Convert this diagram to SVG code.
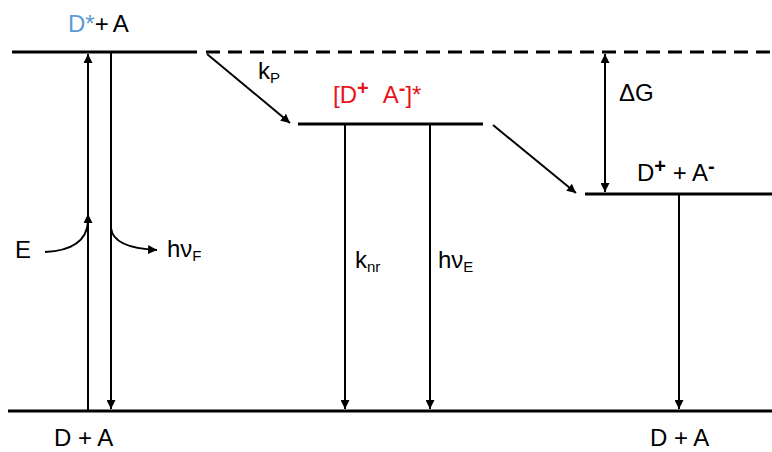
<svg xmlns="http://www.w3.org/2000/svg" width="772" height="452" viewBox="0 0 772 452">
<defs>
<marker id="ah" viewBox="0 0 10 10" refX="10" refY="5" markerWidth="9" markerHeight="9" markerUnits="userSpaceOnUse" orient="auto-start-reverse">
<path d="M0,0 L10,5 L0,10 z" fill="#000"/>
</marker>
<style>
.lv{stroke:#000;stroke-width:3;fill:none}
.ar{stroke:#000;stroke-width:2;fill:none}
text{font-family:"Liberation Sans",Arial,sans-serif;font-size:24px;fill:#000}
.sub{font-size:15px}
.sup{font-size:20px;font-weight:bold}
.red{fill:#e8141c}
.blue{fill:#5b9bd5}
</style>
</defs>
<g id="levels">
<g id="level-excited"><line class="lv" x1="12" y1="52" x2="197" y2="52"/></g>
<g id="level-ref"><line class="lv" x1="206" y1="52" x2="772" y2="52" stroke-dasharray="14,8"/></g>
<g id="level-cs"><line class="lv" x1="298" y1="124" x2="483" y2="124"/></g>
<g id="level-ip"><line class="lv" x1="585" y1="194" x2="772" y2="194"/></g>
<g id="level-ground"><line class="lv" x1="8" y1="411" x2="772" y2="411"/></g>
</g>
<g id="connectors">
<line class="ar" x1="88" y1="410" x2="88" y2="54" marker-end="url(#ah)"/>
<line class="ar" x1="88" y1="260" x2="88" y2="214" marker-end="url(#ah)"/>
<path class="ar" d="M45,252 Q86,250 88,222"/>
<line class="ar" x1="111" y1="53" x2="111" y2="409" marker-end="url(#ah)"/>
<path class="ar" d="M111,228 Q113,248 157,250" marker-end="url(#ah)"/>
<line class="ar" x1="207" y1="54" x2="290" y2="123" marker-end="url(#ah)"/>
<line class="ar" x1="493" y1="125" x2="576" y2="193" marker-end="url(#ah)"/>
<line class="ar" x1="605" y1="54" x2="605" y2="192" marker-start="url(#ah)" marker-end="url(#ah)"/>
<line class="ar" x1="345" y1="125" x2="345" y2="409" marker-end="url(#ah)"/>
<line class="ar" x1="430" y1="125" x2="430" y2="409" marker-end="url(#ah)"/>
<line class="ar" x1="679" y1="195" x2="679" y2="409" marker-end="url(#ah)"/>
</g>
<g id="labels">
<text x="68" y="32" font-size="25"><tspan class="blue">D*</tspan>+<tspan dx="4">A</tspan></text>
<text x="333" y="103" class="red">[D<tspan class="sup" dy="-8">+</tspan><tspan dy="8" dx="14">A</tspan><tspan class="sup" dy="-8">-</tspan><tspan dy="8">]*</tspan></text>
<text x="619" y="101">ΔG</text>
<text x="637" y="181">D<tspan class="sup" dy="-8">+</tspan><tspan dy="8"> + A</tspan><tspan class="sup" dy="-8">-</tspan></text>
<text x="15" y="258">E</text>
<text x="167" y="257">hν<tspan class="sub" dy="4">F</tspan></text>
<text x="258" y="79">k<tspan class="sub" dy="4">P</tspan></text>
<text x="355" y="268">k<tspan class="sub" dy="4">nr</tspan></text>
<text x="438" y="268">hν<tspan class="sub" dy="4">E</tspan></text>
<text x="54" y="446" font-size="22">D + A</text>
<text x="650" y="446" font-size="22">D + A</text>
</g>
</svg>
